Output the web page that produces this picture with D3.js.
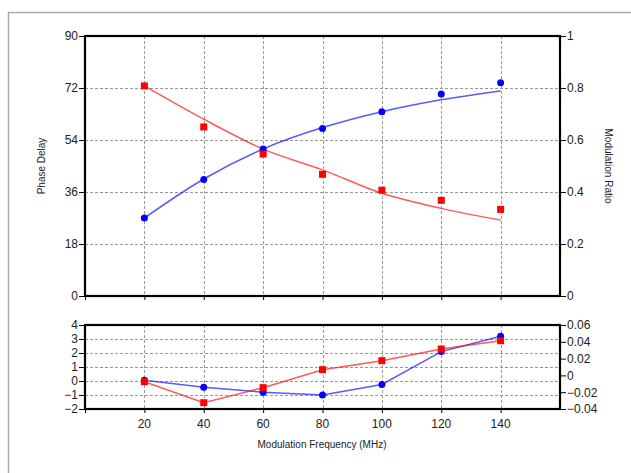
<!DOCTYPE html>
<html>
<head>
<meta charset="utf-8">
<script src="https://cdn.jsdelivr.net/npm/d3@7/dist/d3.min.js"></script>
<style>
body { margin:0; background:#fff; }
text { font-family: "Liberation Sans", Arial, sans-serif; fill:#222; }
</style>
</head>
<body>
<script>
// data
var freq = [20, 40, 60, 80, 100, 120, 140];
var phase = [27.0, 40.3, 50.9, 58.0, 63.8, 69.9, 73.8];
var phaseFit = [27.0, 40.5, 50.9, 58.3, 63.8, 67.9, 71.0];
var ratio = [0.808, 0.65, 0.546, 0.468, 0.407, 0.368, 0.333];
var ratioFit = [0.808, 0.68, 0.565, 0.485, 0.395, 0.337, 0.292];
var phaseRes = [0.05, -0.45, -0.8, -1.0, -0.25, 2.1, 3.2];
var ratioRes = [-0.0075, -0.0325, -0.0146, 0.0068, 0.0175, 0.0314, 0.0413];

var xTicks = [20, 40, 60, 80, 100, 120, 140];
var phaseTicks = [0, 18, 36, 54, 72, 90];
var ratioTicks = [0, 0.2, 0.4, 0.6, 0.8, 1];
var resTicks = [-2, -1, 0, 1, 2, 3, 4];
var resRTicks = [-0.04, -0.02, 0, 0.02, 0.04, 0.06];

var width = 631, height = 473;
var svg = d3.select("body").append("svg")
    .attr("width", width).attr("height", height);

// window frame
svg.append("path").attr("d", "M8.5," + height + "V12.5H" + width)
    .attr("fill", "none").attr("stroke", "#a3abb8").attr("stroke-width", 1.5);

var left = 85, right = 560;
var x = d3.scaleLinear().domain([0, 160]).range([left, right]);

var yTop = d3.scaleLinear().domain([0, 90]).range([296, 36]);
var yTopR = d3.scaleLinear().domain([0, 1]).range([296, 36]);
var yBot = d3.scaleLinear().domain([-2, 4]).range([409, 325]);
var yBotR = d3.scaleLinear().domain([-0.04, 0.06]).range([409, 325]);

function grid(yScale, yVals) {
  var g = svg.append("g").attr("stroke", "#9a9a9a").attr("stroke-dasharray", "3,2").attr("stroke-width", 1);
  g.selectAll(".v").data(xTicks).enter().append("line")
    .attr("x1", d => Math.round(x(d)) + 0.5).attr("x2", d => Math.round(x(d)) + 0.5)
    .attr("y1", yScale.range()[1]).attr("y2", yScale.range()[0]);
  g.selectAll(".h").data(yVals).enter().append("line")
    .attr("x1", left).attr("x2", right)
    .attr("y1", d => Math.round(yScale(d)) + 0.5).attr("y2", d => Math.round(yScale(d)) + 0.5);
}
grid(yTop, [18, 36, 54, 72]);
grid(yBot, [-1, 0, 1, 2, 3]);

function axes(yL, yR, tl, tr, fs, fmtL, fmtR) {
  var aL = svg.append("g").attr("transform", "translate(" + left + ",0)")
    .call(d3.axisLeft(yL).tickValues(tl).tickSize(6).tickFormat(fmtL));
  var aR = svg.append("g").attr("transform", "translate(" + right + ",0)")
    .call(d3.axisRight(yR).tickValues(tr).tickSize(6).tickFormat(fmtR));
  var aB = svg.append("g").attr("transform", "translate(0," + yL.range()[0] + ")")
    .call(d3.axisBottom(x).tickValues([0].concat(xTicks)).tickSize(4).tickFormat(""));
  [aL, aR, aB].forEach(function (a) {
    a.select(".domain").remove();
    a.selectAll("line").attr("stroke", "#000");
    a.selectAll("text").style("font-size", fs + "px").attr("fill", "#222");
  });
  aL.selectAll("text").attr("x", -7);
  aR.selectAll("text").attr("x", 7);
  svg.append("rect").attr("x", left).attr("y", yL.range()[1])
    .attr("width", right - left).attr("height", yL.range()[0] - yL.range()[1])
    .attr("fill", "none").attr("stroke", "#000").attr("stroke-width", 2.2);
}
axes(yTop, yTopR, phaseTicks, ratioTicks, 12, d3.format("d"), d => d === 0 ? "0" : d3.format("")(d));
axes(yBot, yBotR, resTicks, resRTicks, 12, d3.format("d"), d => d === 0 ? "0" : d3.format("")(+d.toFixed(2)));

// x tick labels below lower plot
svg.append("g").selectAll("text").data(xTicks).enter().append("text")
  .attr("x", d => x(d)).attr("y", 428).attr("text-anchor", "middle")
  .style("font-size", "12px").text(d => d);

svg.append("text").attr("x", 322).attr("y", 448).attr("text-anchor", "middle")
  .style("font-size", "10px").text("Modulation Frequency (MHz)");
svg.append("text").attr("transform", "translate(45,166) rotate(-90)").attr("text-anchor", "middle")
  .style("font-size", "10px").text("Phase Delay");
svg.append("text").attr("transform", "translate(605,166) rotate(90)").attr("text-anchor", "middle")
  .style("font-size", "10px").text("Modulation Ratio");

var blue = "#0000ff", red = "#ff0000";
function series(vals, yScale, color, curve, shape) {
  var pts = freq.map((f, i) => [f, vals[i]]);
  return pts;
}
function drawLine(vals, yScale, color, curve) {
  var line = d3.line().x((d, i) => x(freq[i])).y(d => yScale(d)).curve(curve);
  svg.append("path").datum(vals).attr("d", line)
    .attr("fill", "none").attr("stroke", color).attr("stroke-opacity", 0.65).attr("stroke-width", 1.5);
}
function drawDots(vals, yScale) {
  svg.append("g").selectAll("circle").data(vals).enter().append("circle")
    .attr("cx", (d, i) => x(freq[i])).attr("cy", d => yScale(d)).attr("r", 3.5).attr("fill", blue);
}
function drawSquares(vals, yScale) {
  svg.append("g").selectAll("rect").data(vals).enter().append("rect")
    .attr("x", (d, i) => x(freq[i]) - 3.5).attr("y", d => yScale(d) - 3.5)
    .attr("width", 7).attr("height", 7).attr("fill", red);
}

drawLine(phaseFit, yTop, blue, d3.curveMonotoneX);
drawLine(ratioFit, yTopR, red, d3.curveMonotoneX);
drawDots(phase, yTop);
drawSquares(ratio, yTopR);

drawLine(phaseRes, yBot, blue, d3.curveLinear);
drawLine(ratioRes, yBotR, red, d3.curveLinear);
drawDots(phaseRes, yBot);
drawSquares(ratioRes, yBotR);
</script>
</body>
</html>
